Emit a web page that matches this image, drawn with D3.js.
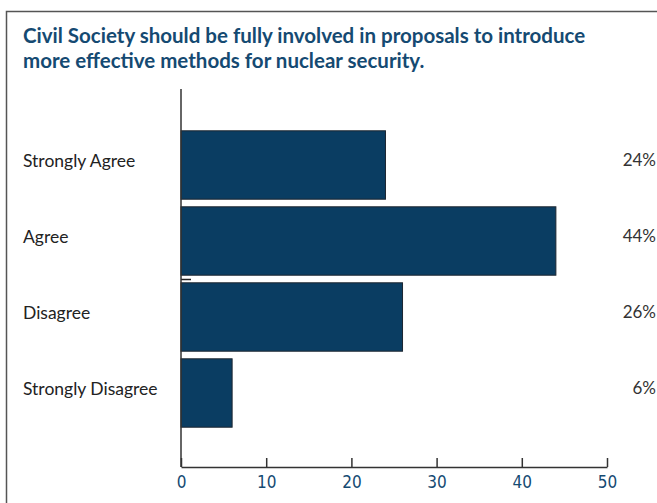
<!DOCTYPE html>
<html lang="en">
<head>
    <meta charset="utf-8">
    <script type="text/javascript" src="https://d3js.org/d3.v7.min.js"></script>
    <title>Civil Society involvement</title>
    <style>
        * { box-sizing: border-box; }
        html, body { margin: 0; padding: 0; background: white; }
        svg { display: block; }
    </style>
</head>
<body>
    <div id="chart"></div>

    <script type="text/javascript">

        // Data
        const categories = ["Strongly Agree", "Agree", "Disagree", "Strongly Disagree"];
        const values = [24, 44, 26, 6];
        const pctLabels = ["24%", "44%", "26%", "6%"];
        const xTicks = [0, 10, 20, 30, 40, 50];
        const titleLines = [
            "Civil Society should be fully involved in proposals to introduce",
            "more effective methods for nuclear security."
        ];

        const W = 657, H = 503;
        const navy = "#0a3d62";

        const svg = d3.select("#chart")
            .append("svg")
                .attr("width", W)
                .attr("height", H);

        // Frame (right and bottom edges are cut off in the picture)
        svg.append("rect")
            .attr("x", 6.5)
            .attr("y", 11.5)
            .attr("width", W + 10)
            .attr("height", H + 10)
            .attr("fill", "white")
            .attr("stroke", "#555")
            .attr("stroke-width", 1.5);

        // Title
        svg.append("text")
            .attr("x", 23)
            .attr("y", 43)
            .attr("fill", "#154a72")
            .style("font-family", "Lato, sans-serif")
            .style("font-weight", "bold")
            .style("font-size", "20.5px")
            .selectAll("tspan")
            .data(titleLines)
            .join("tspan")
                .attr("x", 23)
                .attr("dy", (d, i) => i === 0 ? 0 : 25)
                .text(d => d);

        // Scales
        const x = d3.scaleLinear()
            .domain([0, 50])
            .range([181, 607]);

        const y = d3.scaleBand()
            .domain(categories)
            .range([127, 431])
            .paddingInner(0.1)
            .paddingOuter(0.05);

        // Bars
        svg.selectAll(".bar")
            .data(values)
            .join("rect")
                .attr("class", "bar")
                .attr("x", x(0))
                .attr("y", (d, i) => y(categories[i]))
                .attr("width", d => x(d) - x(0))
                .attr("height", y.bandwidth())
                .attr("fill", navy)
                .attr("stroke", "#1c2630")
                .attr("stroke-width", 1);

        // Small stray tick between Agree and Disagree
        svg.append("line")
            .attr("x1", x(0))
            .attr("x2", x(0) + 10)
            .attr("y1", (y("Agree") + y.bandwidth() + y("Disagree")) / 2 + 0.5)
            .attr("y2", (y("Agree") + y.bandwidth() + y("Disagree")) / 2 + 0.5)
            .attr("stroke", "#222")
            .attr("stroke-width", 1.5);

        // Category labels
        svg.selectAll(".cat")
            .data(categories)
            .join("text")
                .attr("class", "cat")
                .attr("x", 23)
                .attr("y", d => y(d) + y.bandwidth() / 2 - 2)
                .attr("dominant-baseline", "middle")
                .attr("fill", "#222")
                .style("font-family", "Lato, sans-serif")
                .style("font-size", "17.5px")
                .text(d => d);

        // Percent labels
        svg.selectAll(".pct")
            .data(pctLabels)
            .join("text")
                .attr("class", "pct")
                .attr("x", 656)
                .attr("y", (d, i) => y(categories[i]) + y.bandwidth() / 2 - 3)
                .attr("text-anchor", "end")
                .attr("dominant-baseline", "middle")
                .attr("fill", "#333")
                .style("font-family", "Lato, sans-serif")
                .style("font-size", "17px")
                .text(d => d);

        // Axes
        const axisY = 467;

        svg.append("line")
            .attr("x1", x(0))
            .attr("x2", x(0))
            .attr("y1", 89)
            .attr("y2", axisY)
            .attr("stroke", "#333")
            .attr("stroke-width", 1.5);

        const xAxis = svg.append("g")
            .attr("transform", `translate(0, ${axisY})`)
            .call(d3.axisBottom(x).tickValues(xTicks).tickSizeInner(-9).tickSizeOuter(0).tickPadding(7));

        xAxis.select(".domain").attr("stroke", "#333").attr("stroke-width", 1.5);
        xAxis.selectAll(".tick line").attr("stroke", "#333").attr("stroke-width", 1.5);
        xAxis.selectAll(".tick text")
            .attr("fill", "#154a72")
            .attr("dy", "0.85em")
            .style("font-family", "'Liberation Sans Narrow', 'DejaVu Sans Condensed', sans-serif")
            .style("font-size", "17px");

    </script>
</body>
</html>
